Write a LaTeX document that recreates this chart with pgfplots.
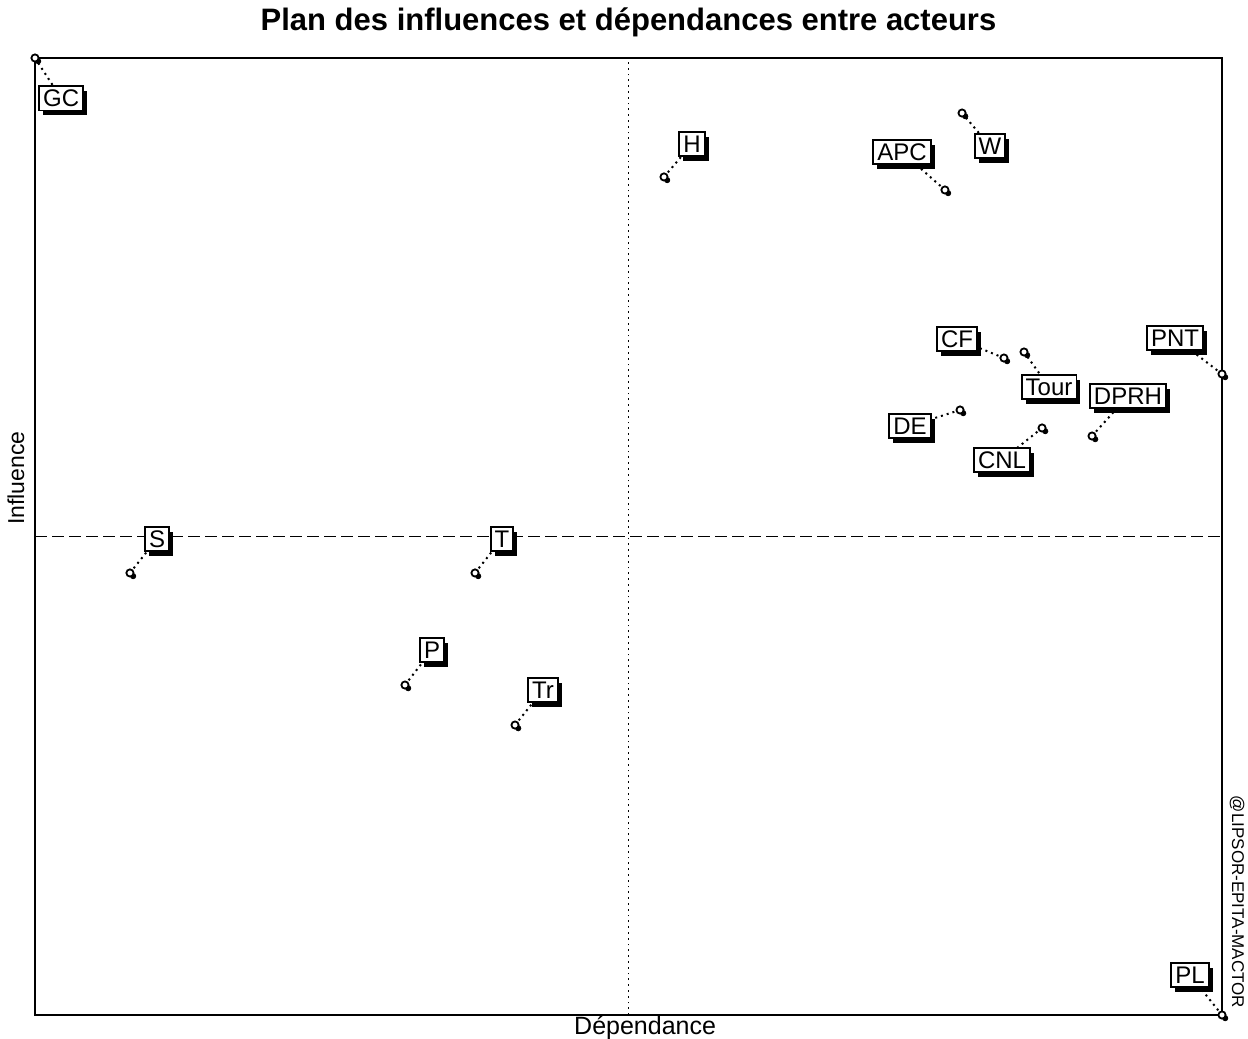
\documentclass[border=0pt]{standalone}
\usepackage{pgfplots}
\pgfplotsset{compat=1.18}
\usepackage{fontspec}
\setmainfont{Liberation Sans}
\usetikzlibrary{shadows}

% actors: dependence (x), influence (y), label position (lx, ly)
\pgfplotstableread{
x      y      lx     ly     name
0.0    100.0  2.2    95.8   GC
52.99  87.57  55.35  91.01  H
76.66  86.21  73.04  90.18  APC
78.10  94.25  80.45  90.80  W
81.63  68.65  77.68  70.64  CF
83.32  69.28  85.43  65.62  Tour
100.0  66.98  96.04  70.74  PNT
89.05  60.50  92.08  64.68  DPRH
77.93  63.22  73.72  61.55  DE
84.84  61.34  81.47  57.99  CNL
8.00   46.19  10.28  49.74  S
37.07  46.19  39.34  49.74  T
31.17  34.48  33.45  38.14  P
40.44  30.30  42.80  33.96  Tr
100.0  0.0    97.30  4.18   PL
}\actors

\tikzset{
  lbl/.style={draw=black, line width=0.9pt, fill=white, font=\fontsize{12}{13}\selectfont,
    text height=8.6pt, text depth=0.5pt, inner xsep=2pt, inner ysep=1.6pt,
    drop shadow={shadow xshift=2pt, shadow yshift=-2.5pt, fill=black, opacity=1}},
  lead/.style={dotted, line width=1pt}
}

\begin{document}
\begin{tikzpicture}
\begin{axis}[
  name=ax,
  scale only axis,
  width=593.5pt, height=478.5pt,
  xmin=0, xmax=100, ymin=0, ymax=100,
  axis line style={line width=1pt},
  xtick=\empty, ytick=\empty,
  clip=false,
]
% centre lines
\addplot[black, dotted, line width=0.9pt] coordinates {(50,0) (50,100)};
\addplot[black, dash pattern=on 6pt off 2.5pt, line width=0.9pt] coordinates {(0,50) (100,50)};

% leader lines
\draw[lead] (axis cs:0.0,100.0) -- (axis cs:2.2,95.8);
\draw[lead] (axis cs:52.99,87.57) -- (axis cs:55.35,91.01);
\draw[lead] (axis cs:76.66,86.21) -- (axis cs:73.04,90.18);
\draw[lead] (axis cs:78.10,94.25) -- (axis cs:80.45,90.80);
\draw[lead] (axis cs:81.63,68.65) -- (axis cs:77.68,70.64);
\draw[lead] (axis cs:83.32,69.28) -- (axis cs:85.43,65.62);
\draw[lead] (axis cs:100.0,66.98) -- (axis cs:96.04,70.74);
\draw[lead] (axis cs:89.05,60.50) -- (axis cs:92.08,64.68);
\draw[lead] (axis cs:77.93,63.22) -- (axis cs:73.72,61.55);
\draw[lead] (axis cs:84.84,61.34) -- (axis cs:81.47,57.99);
\draw[lead] (axis cs:8.00,46.19) -- (axis cs:10.28,49.74);
\draw[lead] (axis cs:37.07,46.19) -- (axis cs:39.34,49.74);
\draw[lead] (axis cs:31.17,34.48) -- (axis cs:33.45,38.14);
\draw[lead] (axis cs:40.44,30.30) -- (axis cs:42.80,33.96);
\draw[lead] (axis cs:100.0,0.0) -- (axis cs:97.30,4.18);

% point markers (shadow blob + open circle)
\addplot[only marks, mark=*, mark size=1.3pt, black,
  mark options={xshift=1.6pt, yshift=-1.6pt}] table[x=x, y=y] {\actors};
\addplot[only marks, mark=*, mark size=1.8pt, draw=black, fill=white,
  mark options={line width=0.9pt}] table[x=x, y=y] {\actors};

% labels
\node[lbl] at (axis cs:2.2,95.8) {GC};
\node[lbl] at (axis cs:55.35,91.01) {H};
\node[lbl] at (axis cs:73.04,90.18) {APC};
\node[lbl] at (axis cs:80.45,90.80) {W};
\node[lbl] at (axis cs:77.68,70.64) {CF};
\node[lbl] at (axis cs:85.43,65.62) {Tour};
\node[lbl] at (axis cs:96.04,70.74) {PNT};
\node[lbl] at (axis cs:92.08,64.68) {DPRH};
\node[lbl] at (axis cs:73.72,61.55) {DE};
\node[lbl] at (axis cs:81.47,57.99) {CNL};
\node[lbl] at (axis cs:10.28,49.74) {S};
\node[lbl] at (axis cs:39.34,49.74) {T};
\node[lbl] at (axis cs:33.45,38.14) {P};
\node[lbl] at (axis cs:42.80,33.96) {Tr};
\node[lbl] at (axis cs:97.30,4.18) {PL};

% titles and axis names
\node[font=\fontsize{15.5}{17}\selectfont\bfseries] at ([yshift=18pt]axis cs:50,100) {Plan des influences et dépendances entre acteurs};
\node[font=\fontsize{12.5}{13}\selectfont] at ([yshift=-6.5pt]axis cs:51.4,0) {Dépendance};
\node[font=\fontsize{11.5}{12}\selectfont, rotate=90] at ([xshift=-9.5pt]axis cs:0,56.1) {Influence};
\node[font=\fontsize{8.5}{9}\selectfont, rotate=-90] at ([xshift=7.5pt]axis cs:100,11.8) {@LIPSOR-EPITA-MACTOR};
\end{axis}
\pgfresetboundingbox
\path ([xshift=-17.5pt,yshift=-12pt]ax.south west) rectangle ([xshift=13pt,yshift=29pt]ax.north east);
\end{tikzpicture}
\end{document}
